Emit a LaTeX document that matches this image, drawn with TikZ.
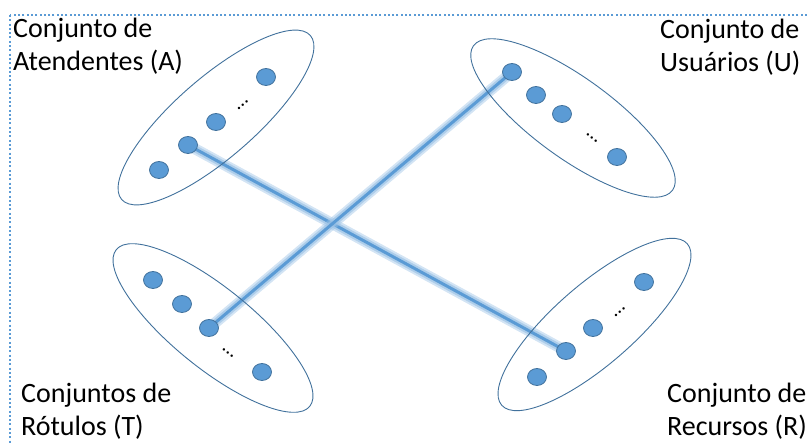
\documentclass[tikz,border=0pt]{standalone}
\usepackage{fontspec}
\setmainfont{Carlito}
\usetikzlibrary{shapes.geometric, backgrounds}

\definecolor{pontoazul}{RGB}{91,155,213}
\definecolor{bordaazul}{RGB}{65,113,156}
\definecolor{brilhoazul}{RGB}{157,195,230}

\tikzset{
  conjunto/.style={ellipse, draw=bordaazul, line width=0.9pt, inner sep=0pt},
  ponto/.style={ellipse, fill=pontoazul, draw=bordaazul, line width=0.8pt,
    minimum width=19pt, minimum height=17pt, inner sep=0pt},
  reticencias/.style={inner sep=0pt, font=\fontsize{20}{20}\selectfont},
  rotulo/.style={align=left, anchor=base west, inner sep=0pt,
    font=\fontsize{28}{33}\selectfont},
  ligacao/.style={draw=pontoazul, line width=3pt,
    preaction={draw=brilhoazul, line width=11pt, opacity=0.45},
    preaction={draw=brilhoazul, line width=7pt, opacity=0.7}},
  moldura/.style={draw=pontoazul, line width=2pt, dash pattern=on 2pt off 2.3pt}
}

\begin{document}
\begin{tikzpicture}[x=1pt, y=-1pt]
  \useasboundingbox (0,0) rectangle (807,443);
  \clip (0,0) rectangle (807,443);
  \draw[moldura] (10,15) rectangle (840,480);

  % conjuntos
  \node[conjunto, minimum width=250pt, minimum height=80pt, rotate=41] (cjA) at (216,117.5) {};
  \node[conjunto, minimum width=246pt, minimum height=80pt, rotate=-36] (cjU) at (573,118) {};
  \node[conjunto, minimum width=249pt, minimum height=80pt, rotate=-39] (cjT) at (213,328) {};
  \node[conjunto, minimum width=246pt, minimum height=80pt, rotate=41] (cjR) at (594.5,324.5) {};

  % elementos
  \foreach \nome/\px/\py in {a1/159/170, a2/188/145, a3/216/122, a4/266/77,
      u1/512/72, u2/536/95, u3/562/114, u4/617/157,
      t1/153/280, t2/182/304, t3/209/328, t4/262/372,
      r1/537/377, r2/566/351, r3/593/328, r4/644/282}
    \node[ponto] (\nome) at (\px,\py) {};

  \node[reticencias, rotate=41] (retA) at (243,105) {…};
  \node[reticencias, rotate=-39] (retU) at (592,138) {…};
  \node[reticencias, rotate=-39] (retT) at (228,353) {…};
  \node[reticencias, rotate=41] (retR) at (620,312) {…};

  % rotulos (base = ultima linha)
  \node[rotulo] (txtA) at (13,71) {Conjunto de\\Atendentes (A)};
  \node[rotulo] (txtU) at (660,72) {Conjunto de\\Usuários (U)};
  \node[rotulo] (txtT) at (21,436) {Conjuntos de\\Rótulos (T)};
  \node[rotulo] (txtR) at (667,436) {Conjunto de\\Recursos (R)};

  \begin{pgfonlayer}{background}
    \draw[ligacao] (a2.center) -- (r2.center);
    \draw[ligacao] (u1.center) -- (t3.center);
  \end{pgfonlayer}
\end{tikzpicture}
\end{document}
